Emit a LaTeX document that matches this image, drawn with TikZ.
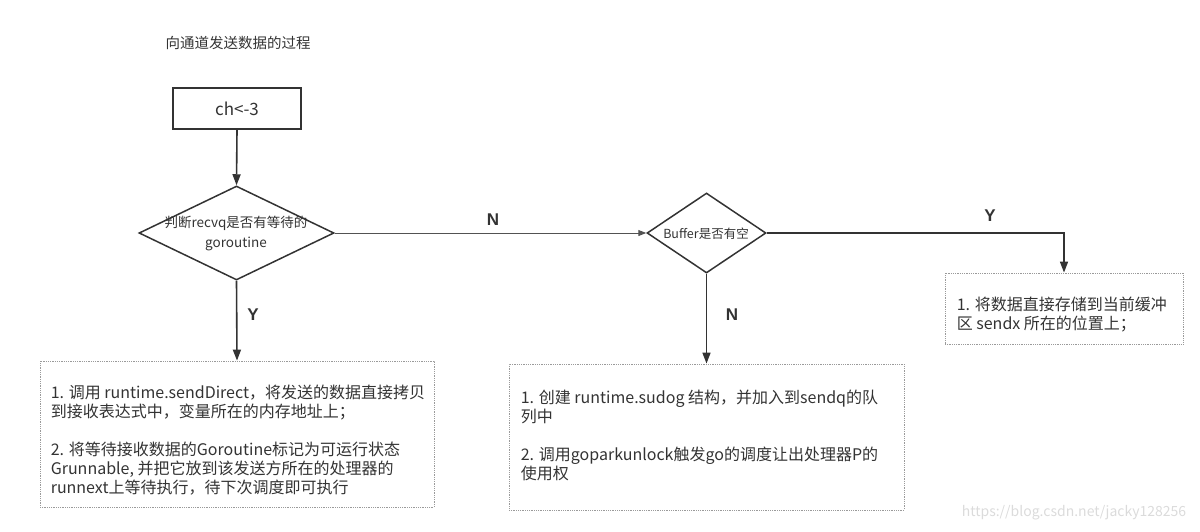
\documentclass[tikz,border=0pt]{standalone}
\usepackage{fontspec}
\setmainfont{Noto Sans CJK SC}
\setsansfont{Liberation Sans}
\usetikzlibrary{arrows.meta,positioning,calc,shapes.geometric}
\definecolor{Ink}{HTML}{333333}
\definecolor{Rule}{HTML}{9A9A9A}

\begin{document}
\begin{tikzpicture}[x=1pt,y=-1pt,
  flow/.style={Ink,line width=1.6pt,-{Triangle[length=11pt,width=8pt]}},
  thin flow/.style={Ink!85,line width=1pt,-{Triangle[length=8pt,width=6pt]}},
  decision/.style={diamond,draw=Ink,line width=1.5pt,inner sep=0pt},
  note/.style={draw=Rule,densely dotted,line width=0.8pt,inner sep=0pt},
  notetext/.style={anchor=north west,align=left,inner sep=0pt,text=Ink,font=\fontsize{16}{19}\selectfont},
  yn/.style={text=Ink,font=\sffamily\bfseries\fontsize{17}{17}\selectfont}]
\useasboundingbox (0,0) rectangle (1200,531);
% title and start
\node[text=Ink,font=\fontsize{14.5}{16}\selectfont] (title) at (238,43) {向通道发送数据的过程};
\node[draw=Ink,line width=1.5pt,minimum width=128pt,minimum height=41pt,text=Ink,font=\fontsize{17}{17}\selectfont] (start) at (237,108.5) {ch<-3};
% decisions
\node[decision,minimum width=195pt,minimum height=94pt] (recvq) at (236.5,233) {};
\node[align=center,text=Ink,font=\fontsize{13.5}{20}\selectfont] (recvqtxt) at (236,233) {判断recvq是否有等待的\\goroutine};
\node[decision,minimum width=119pt,minimum height=80pt] (buffer) at (706.5,233) {};
\node[text=Ink,font=\fontsize{12.5}{14}\selectfont] (buffertxt) at (706,234) {Buffer是否有空};
% result boxes
\node[note,minimum width=394pt,minimum height=146pt] (direct) at (237,434) {};
\node[notetext] (directtxt) at ([shift={(11,24)}]direct.north west) {1. 调用 runtime.sendDirect，将发送的数据直接拷贝\\
到接收表达式中，变量所在的内存地址上；\\[19pt]
2. 将等待接收数据的Goroutine标记为可运行状态\\
Grunnable, 并把它放到该发送方所在的处理器的\\
runnext上等待执行，待下次调度即可执行};
\node[note,minimum width=395pt,minimum height=146pt] (sudog) at (706.5,437) {};
\node[notetext] (sudogtxt) at ([shift={(12,26)}]sudog.north west) {1. 创建 runtime.sudog 结构，并加入到sendq的队\\
列中\\[19pt]
2. 调用goparkunlock触发go的调度让出处理器P的\\
使用权};
\node[note,minimum width=238pt,minimum height=71pt] (sendx) at (1064,308.5) {};
\node[notetext] (sendxtxt) at ([shift={(12,24)}]sendx.north west) {1. 将数据直接存储到当前缓冲\\
区 sendx 所在的位置上；};
% connectors
\draw[flow] (start.south) -- (recvq.north);
\draw[flow] (recvq.south) -- (direct.north);
\draw[thin flow] (recvq.east) -- (buffer.west);
\draw[flow] (buffer.south) -- (sudog.north);
\draw[flow] (buffer.east) -| (sendx.north);
% branch labels
\node[yn] (nbuf) at (493,220) {N};
\node[yn] (ydirect) at (253,315) {Y};
\node[yn] (ysendx) at (990,216) {Y};
\node[yn] (nsudog) at (732,315) {N};
\node[text=black!14,font=\fontsize{14}{14}\selectfont] (mark) at (1074,513) {https://blog.csdn.net/jacky128256};
\end{tikzpicture}
\end{document}
